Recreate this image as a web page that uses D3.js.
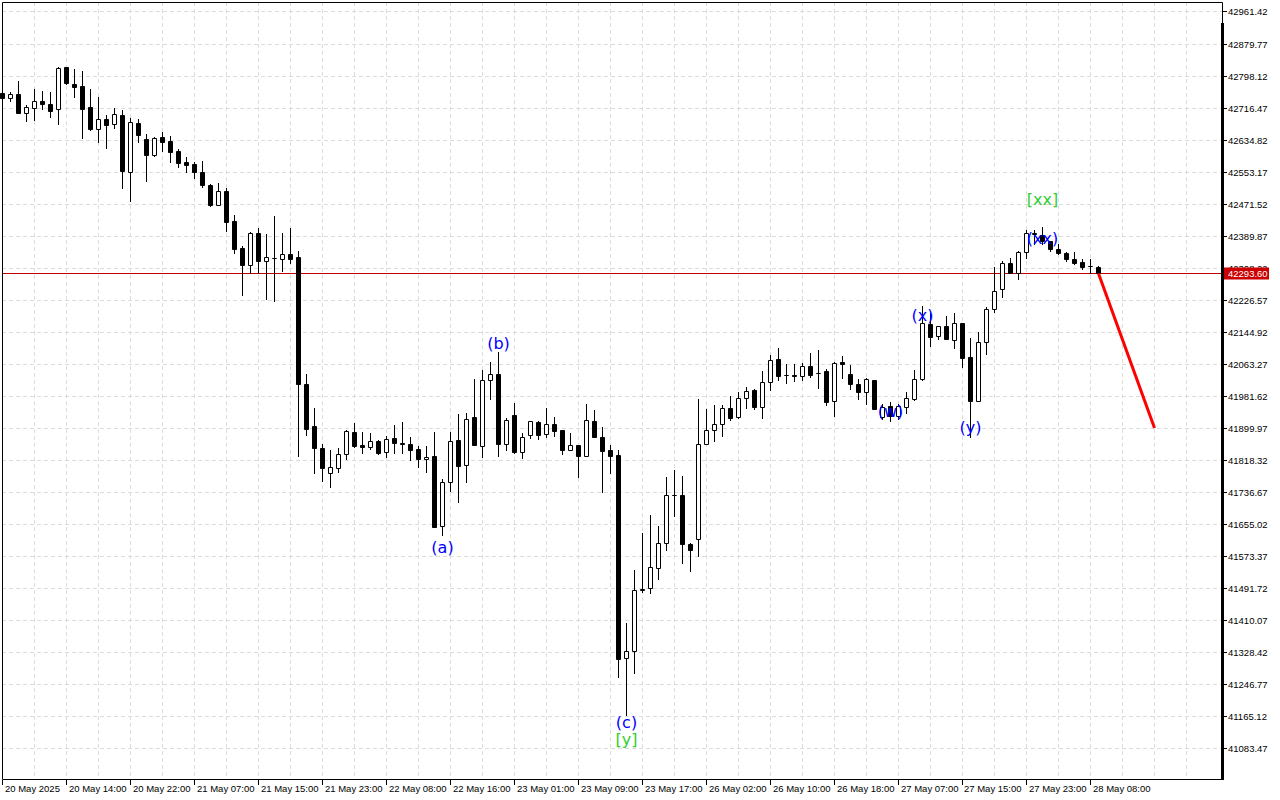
<!DOCTYPE html>
<html><head><meta charset="utf-8">
<script src="https://cdn.jsdelivr.net/npm/d3@7"></script>
<style>html,body{margin:0;padding:0;background:#fff;overflow:hidden}svg{display:block}</style>
</head><body>
<svg id="c" width="1280" height="800"></svg>
<script>
const opens = [42753,42740,42751,42702,42715,42733,42726,42712,42820,42777,
42771,42718,42661,42687,42674,42698,42553,42677,42636,42596,
42641,42631,42606,42578,42572,42551,42519,42468,42504,42428,
42358,42315,42398,42325,42333,42331,42343,42335,42011,41905,
41849,41784,41798,41833,41890,41856,41851,41866,41838,41873,
41861,41859,41845,41821,41828,41650,41761,41869,41806,41927,
41855,42021,42037,41858,41933,41839,41881,41915,41884,41910,
41894,41844,41856,41829,41918,41878,41843,41831,41313,41332,
41488,41491,41544,41606,41729,41730,41605,41618,41858,41894,
41909,41950,41927,41976,41996,41954,42016,42075,42035,42035,
42031,42058,42041,42045,41969,42068,42037,42012,41992,42022,
41927,41956,41930,41952,41974,42024,42165,42134,42160,42123,
42167,42080,41968,42120,42202,42253,42320,42296,42348,42395,
42392,42376,42355,42345,42330,42322,42312,42309];
const highs = [42755,42756,42784,42722,42764,42759,42756,42821,42821,42815,
42810,42764,42743,42698,42715,42710,42689,42688,42649,42641,
42654,42644,42610,42590,42578,42580,42522,42524,42511,42443,
42364,42399,42409,42394,42440,42396,42409,42351,42038,41950,
41859,41844,41850,41895,41912,41889,41886,41869,41879,41907,
41915,41878,41854,41855,41890,41770,41889,41936,41938,42025,
42048,42068,42093,41924,41963,41887,41918,41917,41950,41928,
41894,41886,41856,41962,41946,41903,41856,41844,41403,41538,
41633,41678,41650,41775,41793,41777,41607,41973,41948,41958,
41958,41981,41992,42005,41999,42045,42086,42103,42063,42063,
42066,42090,42099,42049,42067,42082,42060,42024,42026,42022,
41961,41967,41961,41992,42048,42211,42192,42160,42185,42192,
42167,42128,42144,42209,42309,42325,42332,42352,42404,42404,
42411,42376,42370,42348,42349,42330,42330,42313];
const lows = [42738,42734,42702,42683,42685,42714,42693,42675,42777,42744,
42640,42659,42630,42614,42665,42512,42478,42628,42530,42593,
42607,42579,42566,42553,42536,42513,42466,42468,42403,42347,
42240,42294,42294,42228,42224,42301,42320,41828,41882,41784,
41765,41750,41787,41821,41852,41835,41847,41833,41826,41837,
41837,41818,41801,41787,41647,41627,41740,41712,41763,41856,
41827,41974,41829,41844,41835,41824,41875,41872,41877,41879,
41834,41844,41776,41829,41876,41737,41784,41266,41168,41274,
41482,41480,41514,41589,41675,41556,41536,41573,41858,41867,
41879,41920,41926,41950,41949,41926,41997,42022,42015,42020,
42023,42030,42002,41958,41931,42028,41998,41974,41962,41948,
41923,41918,41922,41937,41971,42022,42109,42126,42126,42103,
42056,41877,41968,42088,42196,42234,42295,42279,42332,42370,
42370,42352,42343,42326,42317,42306,42295,42293];
const closes = [42740,42750,42703,42717,42732,42726,42708,42817,42778,42770,
42714,42662,42687,42673,42700,42556,42680,42647,42596,42640,
42630,42604,42576,42571,42551,42518,42468,42504,42426,42357,
42316,42398,42326,42336,42332,42342,42331,42011,41898,41850,
41798,41800,41833,41892,41854,41851,41866,41837,41871,41861,
41858,41844,41821,41827,41648,41761,41867,41804,41923,41857,
42021,42037,41858,41920,41839,41878,41917,41883,41910,41893,
41844,41856,41829,41919,41878,41842,41829,41311,41332,41487,
41490,41545,41606,41729,41730,41605,41589,41858,41895,41909,
41950,41926,41977,41995,41954,42016,42072,42031,42035,42032,
42058,42036,42040,41967,42065,42062,42011,41992,42024,41948,
41954,41931,41956,41975,42024,42167,42132,42160,42126,42167,
42079,41969,42118,42202,42250,42320,42296,42348,42396,42396,
42376,42355,42345,42330,42321,42311,42312,42293.6];

const timeLabels = ["20 May 2025","20 May 14:00","20 May 22:00","21 May 07:00","21 May 15:00","21 May 23:00",
"22 May 08:00","22 May 16:00","23 May 01:00","23 May 09:00","23 May 17:00","26 May 02:00",
"26 May 10:00","26 May 18:00","27 May 07:00","27 May 15:00","27 May 23:00","28 May 08:00"];
const timeLabelBars = [0,8,16,24,32,40,48,56,64,72,80,88,96,104,112,120,128,136];

const priceTicks = [42961.42,42879.77,42798.12,42716.47,42634.82,42553.17,42471.52,42389.87,42308.22,
42226.57,42144.92,42063.27,41981.62,41899.97,41818.32,41736.67,41655.02,41573.37,41491.72,
41410.07,41328.42,41246.77,41165.12,41083.47];

const currentPrice = 42293.60;

const waveTexts = ["(a)","(b)","(c)","[y]","(w)","(x)","(y)","(xx)","[xx]"];
const waveBars = [55,62,78,78,111,115,121,130,130];
const wavePrices = [41594,42114,41148,41105,41942,42186,41900,42382,42482];
const waveColors = ["#0000ff","#0000ff","#0000ff","#32cd32","#0000ff","#0000ff","#0000ff","#0000ff","#32cd32"];

const forecastBars = [137,144];
const forecastPrices = [42293.6,41900];

// ---- layout
const L = 2, T = 2, R = 1222, B = 779;
const svg = d3.select("#c");
const x = d3.scaleLinear().domain([0,152.5]).range([2.5,1222.5]);
const y = d3.scaleLinear().domain([41005.0,42985.6]).range([B,T]);
const ry = v => Math.round(y(v)) + 0.5;

const data = opens.map((o,i)=>({i,o,h:highs[i],l:lows[i],c:closes[i]}));

// grid
const grid = svg.append("g").attr("stroke","#dcdcdc").attr("stroke-dasharray","4,3").attr("stroke-width",1);
grid.selectAll("line.h").data(priceTicks).join("line")
  .attr("x1",L).attr("x2",R).attr("y1",d=>ry(d)).attr("y2",d=>ry(d));
grid.selectAll("line.v").data(d3.range(0,152,4)).join("line")
  .attr("x1",d=>Math.round(x(d)-0.5)+0.5).attr("x2",d=>Math.round(x(d)-0.5)+0.5).attr("y1",T).attr("y2",B);

// current price line
svg.append("line").attr("x1",L).attr("x2",R).attr("y1",ry(currentPrice)).attr("y2",ry(currentPrice))
  .attr("stroke","#c00000").attr("stroke-width",1);

// candles
const cg = svg.append("g");
const cx = i => Math.round(x(i)-0.5)+0.5;
cg.selectAll("line.w").data(data).join("line")
  .attr("x1",d=>cx(d.i)).attr("x2",d=>cx(d.i))
  .attr("y1",d=>ry(d.h)-0.5).attr("y2",d=>ry(d.l)+0.5)
  .attr("stroke","#000").attr("stroke-width",1);
cg.selectAll("path.b").data(data).join("path")
  .attr("d",d=>{
    const x0 = cx(d.i)-2, x1 = cx(d.i)+2;
    const y0 = ry(Math.max(d.o,d.c)), y1 = ry(Math.min(d.o,d.c));
    return `M${x0},${y0}H${x1}V${y1}H${x0}Z`;
  })
  .attr("fill",d=>d.c>=d.o?"#fff":"#000").attr("stroke","#000").attr("stroke-width",1);

// wave labels
svg.selectAll("text.wave").data(waveTexts).join("text")
  .attr("x",(d,k)=>x(waveBars[k])).attr("y",(d,k)=>y(wavePrices[k]))
  .attr("text-anchor","middle").attr("dominant-baseline","central")
  .attr("font-family","DejaVu Sans").attr("font-size",16)
  .attr("fill",(d,k)=>waveColors[k]).text(d=>d);

// forecast line
svg.append("path").datum(forecastBars.map((b,k)=>[b,forecastPrices[k]]))
  .attr("d",d3.line().x(d=>x(d[0])).y(d=>y(d[1])))
  .attr("stroke","#ff0000").attr("stroke-width",3).attr("fill","none");

// frame
svg.append("path").attr("d",`M${L+0.5},${B+0.5}V${T+0.5}H${R+0.5}V${B+0.5}H${L+0.5}`)
  .attr("fill","none").attr("stroke","#000").attr("stroke-width",1);
svg.append("rect").attr("x",R-1).attr("y",23).attr("width",3).attr("height",B-23+1).attr("fill","#000");

// price axis
const pa = svg.append("g").attr("font-family","Liberation Sans").attr("font-size",9.5).attr("fill","#000");
pa.selectAll("line").data(priceTicks).join("line")
  .attr("x1",R+1).attr("x2",R+5).attr("y1",d=>ry(d)).attr("y2",d=>ry(d)).attr("stroke","#000");
pa.selectAll("text").data(priceTicks).join("text")
  .attr("x",R+6).attr("y",d=>ry(d)).attr("dominant-baseline","central").text(d=>d.toFixed(2));

// current price tag
const cpy = ry(currentPrice);
svg.append("rect").attr("x",1224).attr("y",cpy-6).attr("width",45).attr("height",12).attr("fill","#cc0000");
svg.append("text").attr("x",R+6).attr("y",cpy).attr("dominant-baseline","central")
  .attr("font-family","Liberation Sans").attr("font-size",9.5).attr("fill","#fff").text(currentPrice.toFixed(2));

// time axis
const ta = svg.append("g").attr("font-family","Liberation Sans").attr("font-size",9.5).attr("fill","#000");
ta.selectAll("line").data(timeLabelBars).join("line")
  .attr("x1",d=>Math.round(x(d)-0.5)+0.5).attr("x2",d=>Math.round(x(d)-0.5)+0.5)
  .attr("y1",B+1).attr("y2",B+6).attr("stroke","#000");
ta.selectAll("text").data(timeLabels).join("text")
  .attr("x",(d,k)=>Math.round(x(timeLabelBars[k]))+2).attr("y",792).text(d=>d);
</script>
</body></html>
